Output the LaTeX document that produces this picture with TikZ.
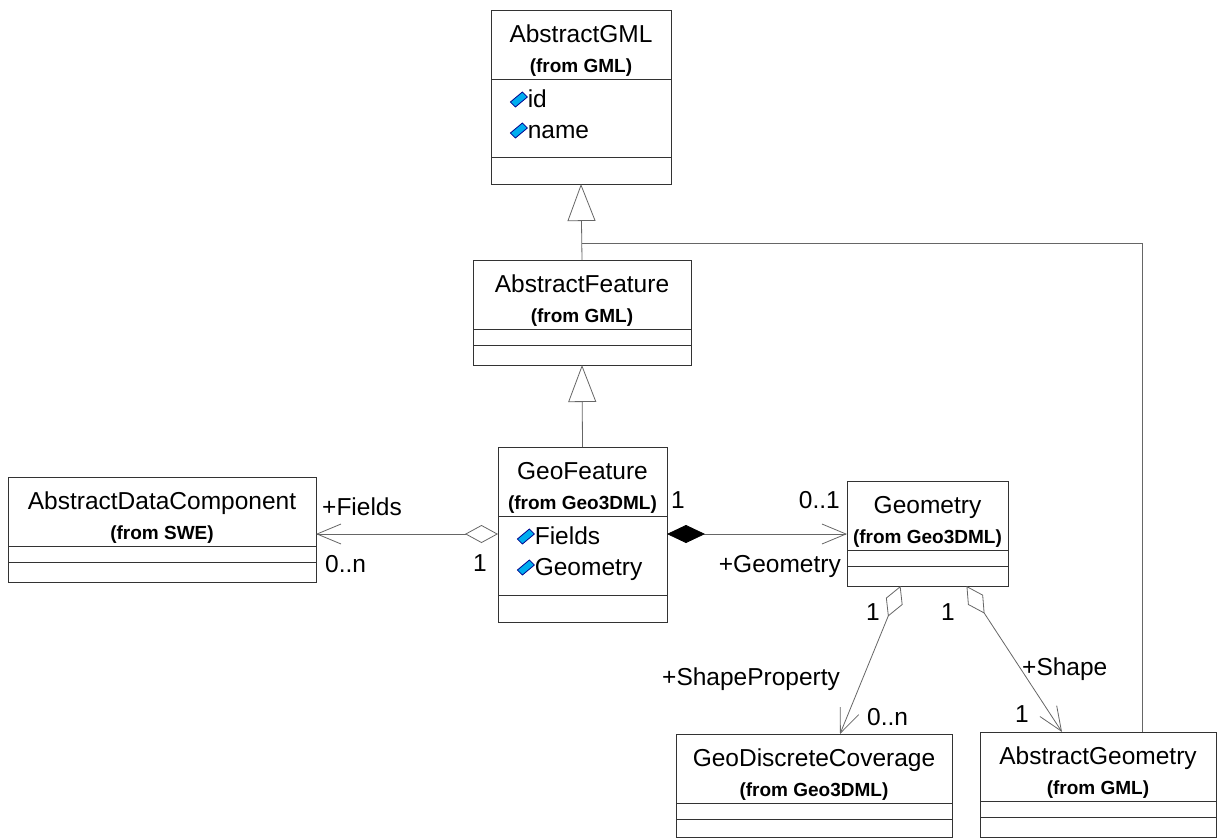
\documentclass[tikz,border=0pt]{standalone}
\usepackage{fontspec}
\setmainfont{Liberation Sans}
\usetikzlibrary{arrows.meta,positioning}

\newcommand{\namefont}{\fontsize{24.5}{30}\selectfont}
\newcommand{\fromfont}{\fontsize{19}{22}\selectfont\bfseries}
\newcommand{\attrmark}{\tikz[baseline=0pt]\filldraw[fill=cyan, draw=blue!55!black, line width=0.8pt] (0pt,5pt) -- (5pt,0pt) -- (17pt,10pt) -- (12pt,15pt) -- cycle;}

\tikzset{
    classhead/.style = {draw=black!80, rectangle, line width=0.8pt, inner sep=0pt, outer sep=0pt, align=center, font=\namefont, text height=62pt, text depth=7pt, minimum width=#1},
    classattr/.style = {draw=black!80, rectangle, line width=0.8pt, inner xsep=19pt, inner ysep=0pt, outer sep=0pt, align=left, font=\fontsize{24.5}{31}\selectfont, text width=#1, text height=28pt, text depth=50pt},
    classpart/.style = {draw=black!80, rectangle, line width=0.8pt, inner sep=0pt, outer sep=0pt, minimum width=#1, minimum height=16pt},
    assoc/.style = {draw=black!60, line width=0.8pt},
    inherit/.style = {assoc, -{Triangle[open, length=37pt, width=28pt]}},
    aggregate/.style = {assoc, {Diamond[open, length=33pt, width=18pt]}-{Straight Barb[length=24pt, width=20pt]}},
    compose/.style = {assoc, {Diamond[length=38pt, width=18pt, color=black]}-{Straight Barb[length=24pt, width=20pt]}},
    role/.style = {font=\namefont, inner sep=0pt},
}

\begin{document}
\begin{tikzpicture}[x=1pt, y=-1pt]
\useasboundingbox (0,0) rectangle (1219,839);

% classes
\node[classhead=180, anchor=north] (gml) at (581,10) {AbstractGML\\{\fromfont (from GML)}};
\node[classattr=142, below=0pt of gml] (gml-attr) {\attrmark{}id\\\attrmark{}name};
\node[classpart=180, minimum height=27pt, below=0pt of gml-attr] (gml-ops) {};

\node[classhead=218, anchor=north] (feat) at (582,260) {AbstractFeature\\{\fromfont (from GML)}};
\node[classpart=218, below=0pt of feat] (feat-attr) {};
\node[classpart=218, minimum height=20pt, below=0pt of feat-attr] (feat-ops) {};

\node[classhead=169, anchor=north] (geofeat) at (582.5,447) {GeoFeature\\{\fromfont (from Geo3DML)}};
\node[classattr=131, text depth=51pt, below=0pt of geofeat] (geofeat-attr) {\attrmark{}Fields\\\attrmark{}Geometry};
\node[classpart=169, minimum height=27pt, below=0pt of geofeat-attr] (geofeat-ops) {};

\node[classhead=308, anchor=north] (adc) at (162,477) {AbstractDataComponent\\{\fromfont (from SWE)}};
\node[classpart=308, below=0pt of adc] (adc-attr) {};
\node[classpart=308, minimum height=20pt, below=0pt of adc-attr] (adc-ops) {};

\node[classhead=161, anchor=north] (geom) at (927.5,481) {Geometry\\{\fromfont (from Geo3DML)}};
\node[classpart=161, below=0pt of geom] (geom-attr) {};
\node[classpart=161, minimum height=20pt, below=0pt of geom-attr] (geom-ops) {};

\node[classhead=276, anchor=north] (gdc) at (814,734) {GeoDiscreteCoverage\\{\fromfont (from Geo3DML)}};
\node[classpart=276, below=0pt of gdc] (gdc-attr) {};
\node[classpart=276, minimum height=18pt, below=0pt of gdc-attr] (gdc-ops) {};

\node[classhead=236, anchor=north] (ageom) at (1098,732) {AbstractGeometry\\{\fromfont (from GML)}};
\node[classpart=236, below=0pt of ageom] (ageom-attr) {};
\node[classpart=236, minimum height=20pt, below=0pt of ageom-attr] (ageom-ops) {};

% generalisations
\draw[inherit] (geofeat.north) -- (feat-ops.south);
\draw[inherit] (feat.north) -- (gml-ops.south);
\coordinate (join) at ([yshift=17pt]feat.north);
\draw[assoc] (join) -| ([xshift=44pt]ageom.north);

% associations
\coordinate (gf-r) at ([yshift=-18pt]geofeat-attr.north east);
\coordinate (gf-l) at ([yshift=-18pt]geofeat-attr.north west);
\draw[compose] (gf-r) -- (gf-r -| geom.west);
\draw[aggregate] (gf-l) -- (gf-l -| adc.east);
\draw[aggregate] ([xshift=-27pt]geom-ops.south) -- ([xshift=26pt]gdc.north);
\draw[aggregate] ([xshift=39pt]geom-ops.south) -- ([xshift=-36pt]ageom.north);

% roles and multiplicities
\node[role, anchor=base west] (fields-role) at (322,515) {+Fields};
\node[role, anchor=base west] (fields-mult) at (325,572) {0..n};
\node[role, anchor=base] (fields-one) at (480,571) {1};
\node[role, anchor=base] (geom-one) at (678,508) {1};
\node[role, anchor=base east] (geom-mult) at (840,508) {0..1};
\node[role, anchor=base east] (geom-role) at (841,572) {+Geometry};
\node[role, anchor=base] (cov-one) at (873,620) {1};
\node[role, anchor=base] (shape-one) at (948,620) {1};
\node[role, anchor=base west] (cov-role) at (662,685) {+ShapeProperty};
\node[role, anchor=base west] (cov-mult) at (867,725) {0..n};
\node[role, anchor=base west] (shape-role) at (1022,675) {+Shape};
\node[role, anchor=base] (shape-mult) at (1022,722) {1};
\end{tikzpicture}
\end{document}
